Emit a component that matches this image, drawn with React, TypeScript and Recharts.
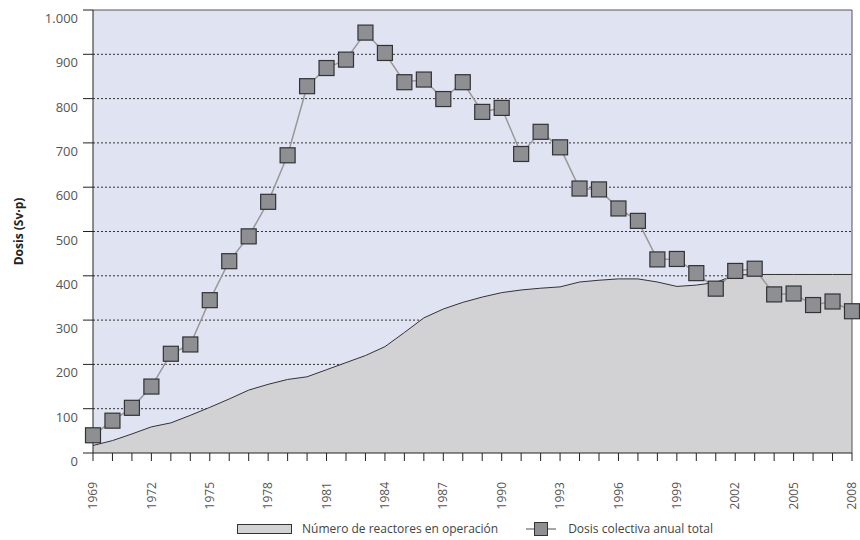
import React from 'react'
import { ComposedChart, Area, Line, XAxis, YAxis, CartesianGrid, Legend, ReferenceLine } from 'recharts'

const years = Array.from({ length: 40 }, (_, i) => 1969 + i)

const dosis = [
  40, 73, 102, 150, 224, 245, 345, 433, 489, 567,
  672, 828, 869, 888, 949, 903, 837, 843, 799, 837,
  770, 779, 675, 725, 690, 597, 595, 552, 524, 437,
  438, 406, 371, 411, 416, 358, 360, 334, 342, 320,
]

const reactores = [
  17, 28, 43, 59, 68, 85, 103, 122, 142, 155,
  166, 172, 188, 204, 220, 240, 272, 305, 325, 340,
  352, 362, 368, 372, 375, 386, 390, 393, 393, 386,
  376, 379, 385, 402, 403, 403, 403, 403, 403, 403,
]

const yTicks = [0, 100, 200, 300, 400, 500, 600, 700, 800, 900, 1000]

const data = years.map((y, i) => ({ year: y, dosis: dosis[i], reactores: reactores[i] }))

const FONT = '"Open Sans", "Liberation Sans", sans-serif'

function SquareDot(props: any) {
  const { cx, cy, index } = props
  if (cx == null || cy == null) return null
  return (
    <rect key={'d' + index} x={cx - 7.5} y={cy - 7.5} width={15} height={15}
      fill="#8e8f93" stroke="#333" strokeWidth={1.2} />
  )
}

function YearTick(props: any) {
  const { x, y, payload } = props
  if ((payload.value - 1969) % 3 !== 0) return null
  return (
    <text x={x} y={y} transform={`rotate(-90 ${x} ${y})`} dx={-19} dy={4.2}
      textAnchor="end" fontSize={12} fill="#555" fontFamily={FONT}>
      {payload.value}
    </text>
  )
}

function DoseTick(props: any) {
  const { x, y, payload } = props
  return (
    <text x={x} y={y} dy={13} textAnchor="end" fontSize={13} fill="#555" fontFamily={FONT}>
      {fmt(payload.value)}
    </text>
  )
}

const fmt = (v: number) => (v === 1000 ? '1.000' : String(v))

function LegendBox() {
  return (
    <div style={{ display: 'flex', alignItems: 'center', fontFamily: FONT, fontSize: 12, color: '#444' }}>
      <svg width={56} height={12} style={{ marginLeft: 237 }}>
        <rect x={0.5} y={1.5} width={54} height={9} fill="#d2d2d4" stroke="#333" />
      </svg>
      <span style={{ marginLeft: 9 }}>Número de reactores en operación</span>
      <svg width={30} height={16} style={{ marginLeft: 28 }}>
        <line x1={0} y1={8} x2={30} y2={8} stroke="#888" strokeWidth={1.5} />
        <rect x={8.5} y={1.5} width={13} height={13} fill="#8e8f93" stroke="#333" />
      </svg>
      <span style={{ marginLeft: 12 }}>Dosis colectiva anual total</span>
    </div>
  )
}

export default function App() {
  return (
    <div style={{ position: 'absolute', left: 0, top: 0 }}>
      <ComposedChart width={860} height={540} data={data}
        margin={{ top: 10, right: 8, left: 8, bottom: 30 }}>
        <CartesianGrid horizontal vertical={false} fill="#e0e3f2" stroke="#333"
          strokeDasharray="2 2" horizontalValues={[100, 200, 300, 400, 500, 600, 700, 800, 900]} />
        <XAxis dataKey="year" type="number" domain={[1969, 2008]} ticks={years}
          interval={0} tick={<YearTick />} tickSize={8} stroke="#222" height={40} />
        <YAxis domain={[0, 1000]} ticks={yTicks} width={85} tickSize={10}
          tickMargin={5} stroke="#222" interval={0} tick={<DoseTick />}
          label={{ value: 'Dosis (Sv·p)', angle: -90, position: 'insideLeft', dx: 6,
            style: { fontWeight: 700, fontSize: 12, fill: '#222', fontFamily: FONT, textAnchor: 'middle' } }} />
        <ReferenceLine y={1000} stroke="#555" strokeWidth={1} />
        <ReferenceLine x={2008} stroke="#555" strokeWidth={1} />
        <Area type="linear" dataKey="reactores" name="Número de reactores en operación"
          fill="#d2d2d4" fillOpacity={1} stroke="#333" strokeWidth={1} isAnimationActive={false} />
        <Line type="linear" dataKey="dosis" name="Dosis colectiva anual total"
          stroke="#999" strokeWidth={1.5} dot={SquareDot} activeDot={false} isAnimationActive={false} />
        <Legend content={<LegendBox />} wrapperStyle={{ left: 0, top: 520, width: 860 }} />
      </ComposedChart>
    </div>
  )
}
